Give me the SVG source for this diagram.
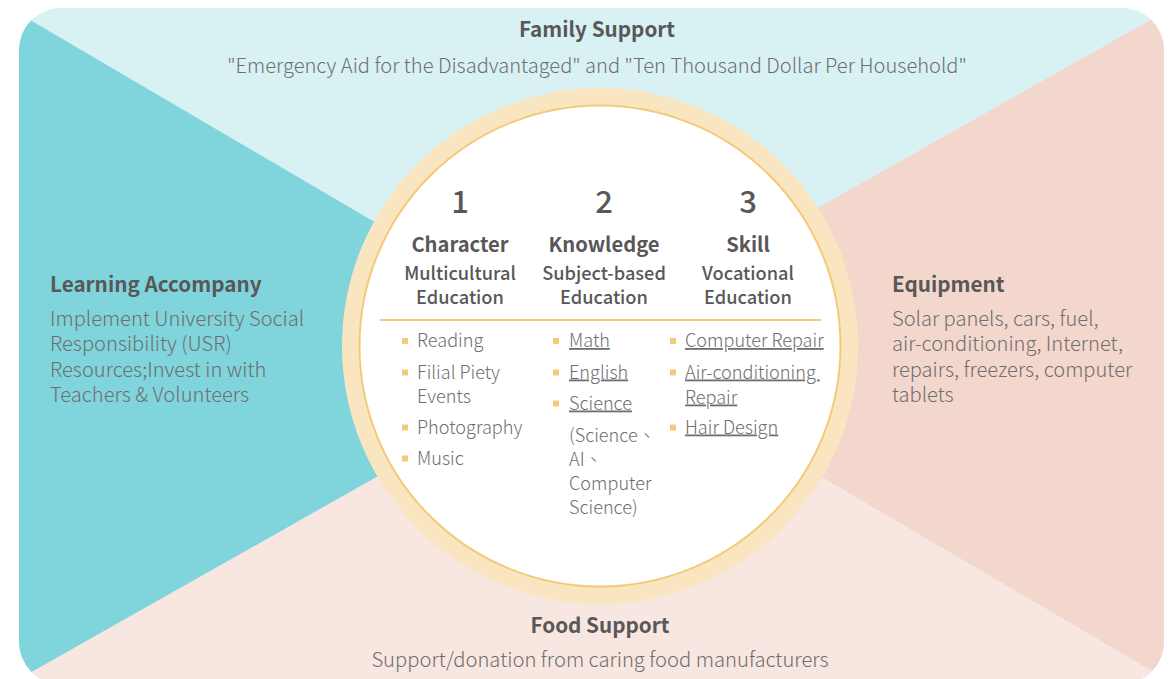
<svg xmlns="http://www.w3.org/2000/svg" width="1176" height="679" viewBox="0 0 1176 679">
<style>
text{font-family:"Noto Sans CJK TC","Noto Sans",sans-serif;}
.h{font-weight:bold;font-size:20.7px;fill:#595757;}
.b{font-size:20.1px;font-weight:300;fill:#6e6e6e;}
.num{font-size:31px;font-weight:500;fill:#595757;}
.t{font-weight:bold;font-size:20.2px;fill:#595757;text-anchor:middle;}
.s{font-weight:500;font-size:18.2px;fill:#595757;text-anchor:middle;}
.li{font-size:18.1px;font-weight:300;fill:#6e6e6e;}
.u{text-decoration:underline;}
.bul{fill:#F3CA7A;}
.c{text-anchor:middle;}
</style>
<defs>
<clipPath id="clip"><rect x="19" y="8" width="1145" height="676" rx="42" ry="42"/></clipPath>
</defs>
<g id="background" clip-path="url(#clip)">
<rect x="0" y="0" width="1176" height="679" fill="#D8F2F4"/>
<polygon points="0,2.4 597,352.5 0,690" fill="#80D4DB"/>
<polygon points="0,690 597,352.5 586,338.7 1176,685 1176,700 0,700" fill="#F8E6E0"/>
<polygon points="1176,5.4 586,338.7 1176,685" fill="#F3D7CD"/>
</g>
<g id="family-support">
<text class="h c" x="597" y="37">Family Support</text>
<text class="b c" x="597" y="73">"Emergency Aid for the Disadvantaged" and "Ten Thousand Dollar Per Household"</text>
</g>
<g id="learning-accompany">
<text class="h" x="50" y="292">Learning Accompany</text>
<text class="b" x="50" y="326">Implement University Social</text>
<text class="b" x="50" y="351">Responsibility (USR)</text>
<text class="b" x="50" y="376.5">Resources;Invest in with</text>
<text class="b" x="50" y="401.5">Teachers &amp; Volunteers</text>
</g>
<g id="equipment">
<text class="h" x="892" y="292">Equipment</text>
<text class="b" x="892" y="326">Solar panels, cars, fuel,</text>
<text class="b" x="892" y="351">air-conditioning, Internet,</text>
<text class="b" x="892" y="376.5">repairs, freezers, computer</text>
<text class="b" x="892" y="401.5">tablets</text>
</g>
<g id="food-support">
<text class="h c" x="600" y="633">Food Support</text>
<text class="b c" x="600" y="667" style="font-size:20.2px">Support/donation from caring food manufacturers</text>
</g>
<g id="center-circle">
<circle cx="600" cy="346" r="258" fill="#F9E6C1"/>
<circle cx="600" cy="346" r="240.5" fill="#FFFFFF" stroke="#F3CA7A" stroke-width="2"/>
<line x1="380" y1="320" x2="821" y2="320" stroke="#F3CA7A" stroke-width="2"/>
</g>
<g id="col-character">
<text class="num c" x="460" y="213">1</text>
<text class="t" x="460" y="252">Character</text>
<text class="s" x="460" y="280">Multicultural</text>
<text class="s" x="460" y="304">Education</text>
<rect class="bul" x="402" y="338" width="6" height="6"/>
<text class="li" x="417" y="347">Reading</text>
<rect class="bul" x="402" y="369.5" width="6" height="6"/>
<text class="li" x="417" y="378.5">Filial Piety</text>
<text class="li" x="417" y="403">Events</text>
<rect class="bul" x="402" y="424.5" width="6" height="6"/>
<text class="li" x="417" y="433.5">Photography</text>
<rect class="bul" x="402" y="455.5" width="6" height="6"/>
<text class="li" x="417" y="464.5">Music</text>
</g>
<g id="col-knowledge">
<text class="num c" x="604" y="213">2</text>
<text class="t" x="604" y="252">Knowledge</text>
<text class="s" x="604" y="280">Subject-based</text>
<text class="s" x="604" y="304">Education</text>
<rect class="bul" x="553" y="338" width="6" height="6"/>
<text class="li u" x="569" y="347">Math</text>
<rect class="bul" x="553" y="369.5" width="6" height="6"/>
<text class="li u" x="569" y="378.5">English</text>
<rect class="bul" x="553" y="400.5" width="6" height="6"/>
<text class="li u" x="569" y="409.5">Science</text>
<text class="li" x="569" y="442">(Science、</text>
<text class="li" x="569" y="466">AI、</text>
<text class="li" x="569" y="490">Computer</text>
<text class="li" x="569" y="514">Science)</text>
</g>
<g id="col-skill">
<text class="num c" x="748" y="213">3</text>
<text class="t" x="748" y="252">Skill</text>
<text class="s" x="748" y="280">Vocational</text>
<text class="s" x="748" y="304">Education</text>
<rect class="bul" x="670" y="338" width="6" height="6"/>
<text class="li u" x="685" y="347">Computer Repair</text>
<rect class="bul" x="670" y="369.5" width="6" height="6"/>
<text class="li u" x="685" y="378.5" xml:space="preserve">Air-conditioning </text>
<text class="li u" x="685" y="403.5">Repair</text>
<rect class="bul" x="670" y="424.5" width="6" height="6"/>
<text class="li u" x="685" y="433.5">Hair Design</text>
</g>
<g id="connectors"></g>
</svg>
